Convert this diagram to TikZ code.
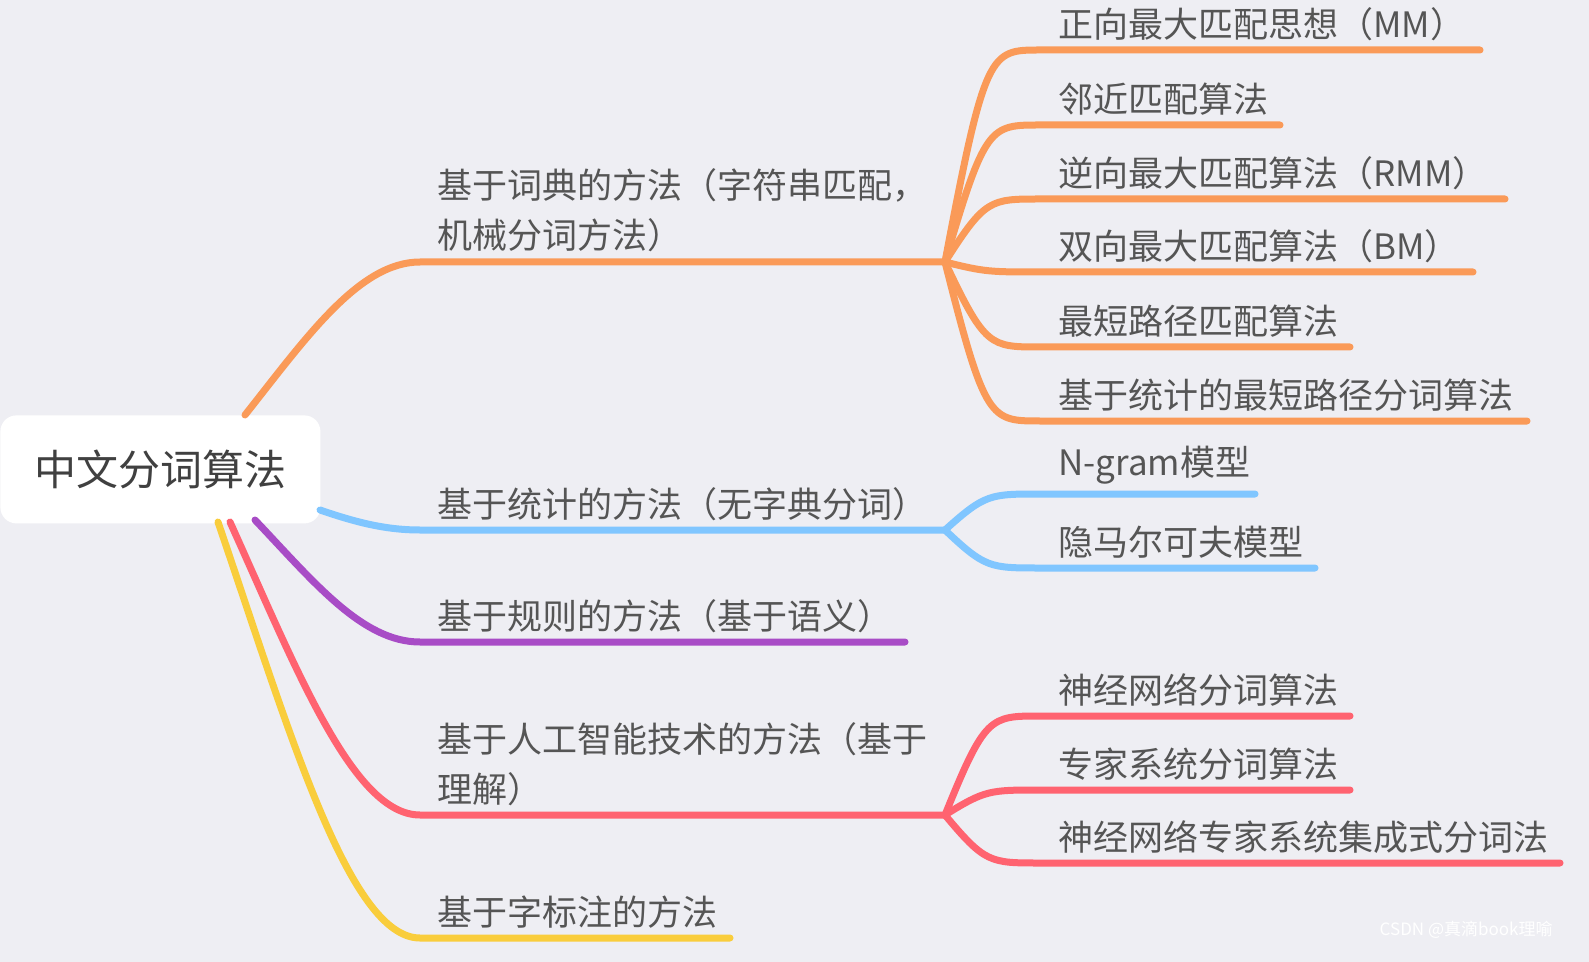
\documentclass[tikz,border=0pt]{standalone}
\usepackage{fontspec}
\newfontfamily\cjk{Noto Sans CJK SC}
\definecolor{bg}{HTML}{EEEEF3}
\definecolor{cO}{HTML}{FA9A58}
\definecolor{cB}{HTML}{80C6FF}
\definecolor{cP}{HTML}{A84CC6}
\definecolor{cR}{HTML}{FF6370}
\definecolor{cY}{HTML}{F9CD3C}
\definecolor{tx}{HTML}{555555}
\begin{document}
\begin{tikzpicture}[x=0.5pt,y=-0.5pt,
 br/.style={line width=3.5pt,line cap=round},
 lab/.style={anchor=south west,inner sep=0pt,font=\cjk\fontsize{17.5}{25}\selectfont,text=tx,align=left}]
\useasboundingbox (0,0) rectangle (1589,962);
\fill[bg] (0,0) rectangle (1589,962);
\node[fill=white,rounded corners=8pt,minimum width=160pt,minimum height=54pt,anchor=north west,inner sep=0pt,font=\cjk\fontsize{21}{25}\selectfont,text=black!75] (root) at (0,415) {中文分词算法};
% main branches
\coordinate (oA) at (245,415); \coordinate (oB) at (420,262); \coordinate (oJ) at (945,262);
\coordinate (bA) at (320,510); \coordinate (bB) at (420,530); \coordinate (bJ) at (945,530);
\coordinate (pA) at (255,520); \coordinate (pB) at (420,642); \coordinate (pE) at (905,642);
\coordinate (rA) at (230,522); \coordinate (rB) at (420,815); \coordinate (rJ) at (945,815);
\coordinate (yA) at (218,522); \coordinate (yB) at (420,938); \coordinate (yE) at (730,938);
\draw[br,cY] (yA) .. controls (289,730) and (349,938) .. (yB) -- (yE);
\draw[br,cR] (rA) .. controls (296,668) and (353,815) .. (rB) -- (rJ);
\draw[br,cP] (pA) .. controls (313,581) and (362,642) .. (pB) -- (pE);
\draw[br,cB] (bA) .. controls (355,522) and (385,530) .. (bB) -- (bJ);
\draw[br,cO] (oA) .. controls (306,338) and (359,262) .. (oB) -- (oJ);
\node[lab] (l1) at (437,252) {基于词典的方法（字符串匹配，\\机械分词方法）};
\node[lab] (l2) at (437,521) {基于统计的方法（无字典分词）};
\node[lab] (l3) at (437,633) {基于规则的方法（基于语义）};
\node[lab] (l4) at (437,806) {基于人工智能技术的方法（基于\\理解）};
\node[lab] (l5) at (437,929) {基于字标注的方法};
% children
\foreach \y/\e/\t/\c/\j in {
 50/1480/正向最大匹配思想（MM）/cO/oJ,
 125/1280/邻近匹配算法/cO/oJ,
 199/1505/逆向最大匹配算法（RMM）/cO/oJ,
 272/1473/双向最大匹配算法（BM）/cO/oJ,
 347/1350/最短路径匹配算法/cO/oJ,
 421/1527/基于统计的最短路径分词算法/cO/oJ,
 494/1255/N-gram模型/cB/bJ,
 568/1315/隐马尔可夫模型/cB/bJ,
 716/1350/神经网络分词算法/cR/rJ,
 790/1350/专家系统分词算法/cR/rJ,
 863/1560/神经网络专家系统集成式分词法/cR/rJ}{
 \coordinate (s\y) at (1040,\y); \coordinate (e\y) at (\e,\y);
 \draw[br,\c] (\j) .. controls (985,\y) and (990,\y) .. (s\y) -- (e\y);
 \node[lab] (t\y) at (1058,\y-9) {\t};
}
\node[anchor=east,inner sep=0pt,font=\cjk\fontsize{8.5}{10}\selectfont,text=white] (wm) at (1553,930) {CSDN @真滴book理喻};
\end{tikzpicture}
\end{document}
